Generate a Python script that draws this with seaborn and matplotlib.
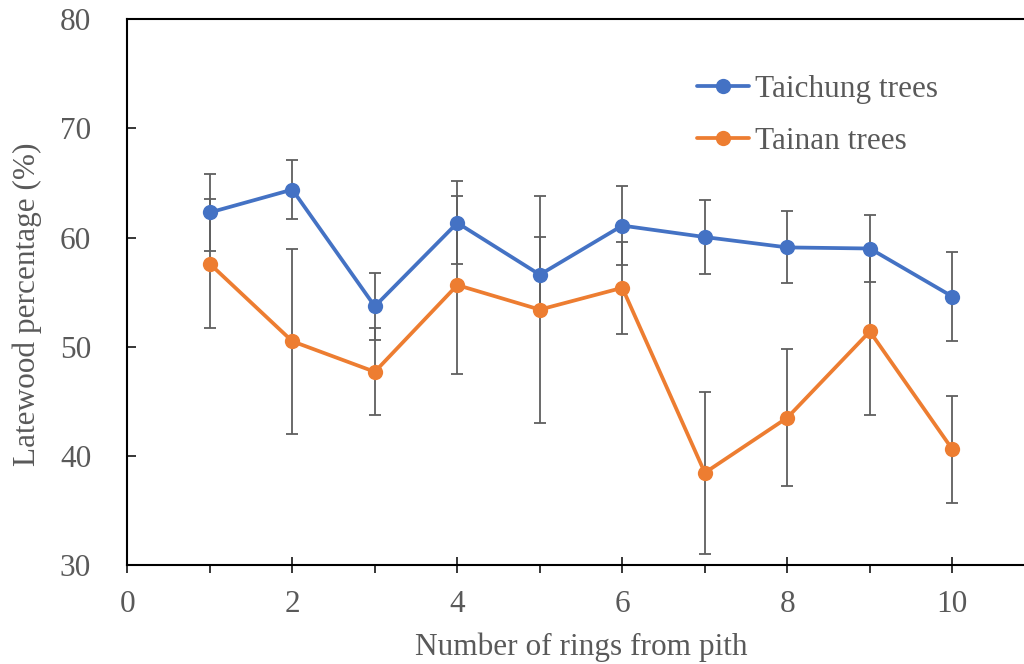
import matplotlib
matplotlib.use("Agg")
import matplotlib.pyplot as plt
from matplotlib.ticker import MultipleLocator
from matplotlib.lines import Line2D
import seaborn as sns
import pandas as pd
import numpy as np

rings = [1, 2, 3, 4, 5, 6, 7, 8, 9, 10]
taichung_mean = [62.3, 64.4, 53.7, 61.35, 56.6, 61.1, 60.05, 59.1, 59.0, 54.6]
taichung_err = [3.5, 2.7, 3.1, 3.8, 3.5, 3.65, 3.35, 3.3, 3.05, 4.05]
tainan_mean = [57.6, 50.5, 47.7, 55.65, 53.4, 55.4, 38.45, 43.5, 51.4, 40.6]
tainan_err = [5.9, 8.5, 4.0, 8.15, 10.4, 4.2, 7.4, 6.3, 7.65, 4.9]
series_names = ["Taichung trees", "Tainan trees"]
colors = ["#4472C4", "#ED7D31"]

sns.set_theme(style="white")
plt.rcParams["font.family"] = ["Liberation Serif", "DejaVu Serif"]
text_color = "#595959"

df = pd.DataFrame({
    "ring": rings * 2,
    "pct": taichung_mean + tainan_mean,
    "site": [series_names[0]] * len(rings) + [series_names[1]] * len(rings),
})

fig = plt.figure(figsize=(10.24, 6.64), dpi=100)
ax = fig.add_axes([0.1243, 0.1491, 0.8863, 0.8218])

for m, e in [(taichung_mean, taichung_err), (tainan_mean, tainan_err)]:
    ax.errorbar(rings, m, yerr=e, fmt="none", ecolor="#5f5f5f", elinewidth=1.3,
                capsize=4.3, capthick=1.3, zorder=1)

sns.lineplot(data=df, x="ring", y="pct", hue="site", palette=colors,
             marker="o", markersize=11, markeredgewidth=0, linewidth=2.7,
             ax=ax, legend=False, zorder=3)

ax.set_xlim(0, 11)
ax.set_ylim(30, 80)
ax.xaxis.set_major_locator(MultipleLocator(2))
ax.xaxis.set_minor_locator(MultipleLocator(1))
ax.yaxis.set_major_locator(MultipleLocator(10))

fs = 22.5
ax.tick_params(axis="x", which="major", direction="inout", length=12, width=1.1,
               color="black", labelsize=fs, labelcolor=text_color, pad=12, bottom=True)
ax.tick_params(axis="x", which="minor", direction="out", length=6, width=1.1,
               color="black", bottom=True)
ax.tick_params(axis="y", which="major", direction="in", length=6.5, width=1.1,
               color="black", labelsize=fs, labelcolor=text_color, pad=26, left=True)

for s in ["left", "bottom", "top", "right"]:
    ax.spines[s].set_color("black")
    ax.spines[s].set_linewidth(1.5)

ax.set_xlabel("Number of rings from pith", fontsize=fs, color=text_color, labelpad=9.5)
ax.set_ylabel("Latewood percentage (%)", fontsize=fs, color=text_color)
ax.yaxis.set_label_coords(-0.094, 0.478)

handles = [Line2D([0], [0], color=c, marker="o", markersize=11, markeredgewidth=0,
                  linewidth=2.7) for c in colors]
leg = ax.legend(handles, series_names, loc="center left",
                bbox_to_anchor=(0.6807, 0.826), bbox_transform=fig.transFigure,
                frameon=False, fontsize=fs, handlelength=1.65, handletextpad=0.2,
                borderpad=0, borderaxespad=0, labelspacing=0.75)
for t in leg.get_texts():
    t.set_color(text_color)

fig.savefig("out.png", dpi=100)
